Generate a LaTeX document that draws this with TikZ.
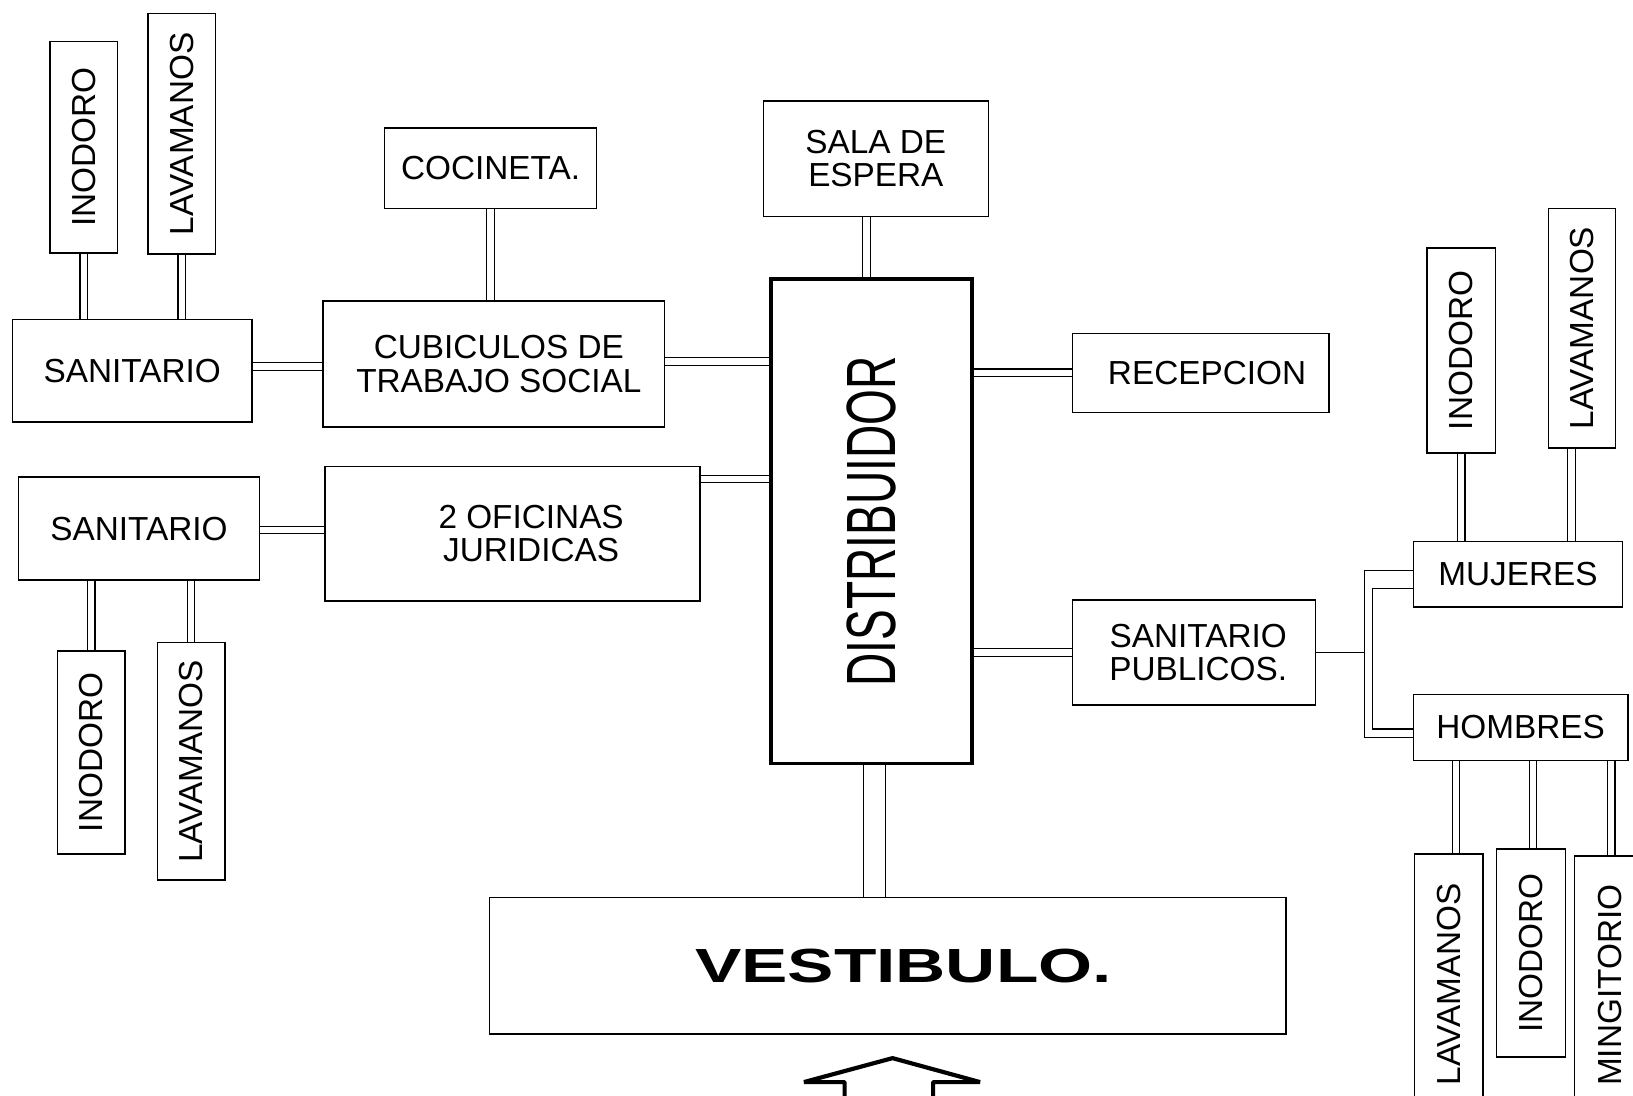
\documentclass[tikz,border=0pt]{standalone}
\usepackage{fontspec}
\usepackage{graphicx}
\setmainfont{Liberation Sans}
\begin{document}
\begin{tikzpicture}[x=1pt,y=-1pt,
  box/.style={draw, line width=1.4pt, fill=white, inner sep=0pt, align=center, font=\fontsize{32}{32}\selectfont},
  sz/.style 2 args={minimum width=#1, minimum height=#2},
  conn/.style={draw, double, double distance=6pt, line width=1.2pt},
  wire/.style={draw, line width=1.2pt},
]
\useasboundingbox (0,0) rectangle (1568,1052);
\fill[white] (0,0) rectangle (1568,1052);

% left upper group
\node[box, sz={65pt}{203pt}] (ino1) at (80.5,141.5) {\rotatebox{90}{INODORO}};
\node[box, sz={65pt}{231pt}] (lav1) at (174.5,128.5) {\rotatebox{90}{LAVAMANOS}};
\node[box, sz={230pt}{98pt}] (san1) at (127,356) {SANITARIO};
\node[box, sz={204pt}{77pt}] (coc) at (471,161.5) {COCINETA.};
\node[box, sz={328pt}{121pt}] (cub) at (474,349.5) {\hspace*{10pt}CUBICULOS DE\\\hspace*{10pt}TRABAJO SOCIAL};

% centre
\node[box, sz={216pt}{111pt}] (sala) at (841,152.5) {SALA DE\\ESPERA};
\node[box, line width=3.5pt, sz={193pt}{465pt}] (dist) at (836.5,500.5)
  {\rotatebox{90}{\scalebox{0.66}[1]{\fontsize{67}{67}\selectfont DISTRIBUIDOR}}};
\node[box, sz={246pt}{76pt}] (rec) at (1153,358) {\hspace*{12pt}RECEPCION};
\node[box, sz={233pt}{101pt}] (sp) at (1146.5,626.5) {\hspace*{8pt}SANITARIO\\\hspace*{8pt}PUBLICOS.};
\node[box, sz={765pt}{131pt}] (vest) at (852.5,927.5)
  {\hspace*{30pt}\scalebox{1.45}[1]{\fontsize{46}{46}\selectfont\bfseries VESTIBULO.}};

% left lower group
\node[box, sz={231pt}{99pt}] (san2) at (133.5,507.5) {SANITARIO};
\node[box, sz={360pt}{129pt}] (ofi) at (492,512.5) {\hspace*{36pt}2 OFICINAS\\\hspace*{36pt}JURIDICAS};
\node[box, sz={65pt}{195pt}] (ino2) at (87.5,722.5) {\rotatebox{90}{INODORO}};
\node[box, sz={65pt}{228pt}] (lav2) at (183.5,731) {\rotatebox{90}{LAVAMANOS}};

% right group
\node[box, sz={66pt}{197pt}] (ino3) at (1403,336.5) {\rotatebox{90}{INODORO}};
\node[box, sz={64pt}{230pt}] (lav3) at (1519,315) {\rotatebox{90}{LAVAMANOS}};
\node[box, sz={201pt}{63pt}] (muj) at (1457.5,551.5) {MUJERES};
\node[box, sz={206pt}{63pt}] (hom) at (1460,698.5) {HOMBRES};
\node[box, sz={66pt}{250pt}] (lav4) at (1391,945) {\rotatebox{90}{LAVAMANOS}};
\node[box, sz={66pt}{200pt}] (ino4) at (1470,915) {\rotatebox{90}{INODORO}};
\node[box, sz={68pt}{248pt}] (ming) at (1546,946) {\rotatebox{90}{MINGITORIO}};

% connectors
\draw[conn] (ino1.south) -- (ino1.south |- san1.north);
\draw[conn] (lav1.south) -- (lav1.south |- san1.north);
\draw[conn] (san1.east |- 0,352) -- (cub.west |- 0,352);
\draw[conn] (coc.south) -- (coc.south |- cub.north);
\draw[conn] (cub.east |- 0,347) -- (dist.west |- 0,347);
\draw[conn] (sala.south -| 832,0) -- (dist.north -| 832,0);
\draw[conn] (dist.east |- rec.west) -- (rec.west);
\draw[conn] (san2.east |- 0,509) -- (ofi.west |- 0,509);
\draw[conn] (ofi.east |- 0,460) -- (dist.west |- 0,460);
\draw[conn] (ino2.north |- san2.south) -- (ino2.north);
\draw[conn] (lav2.north |- san2.south) -- (lav2.north);
\draw[conn] (dist.east |- sp.west) -- (sp.west);
\draw[conn, double distance=20pt] (dist.south -| 840,0) -- (vest.north -| 840,0);
\draw[conn] (ino3.south) -- (ino3.south |- muj.north);
\draw[conn] (lav3.south -| 1509,0) -- (muj.north -| 1509,0);
\draw[conn] (hom.south -| 1398,0) -- (lav4.north -| 1398,0);
\draw[conn] (hom.south -| 1472,0) -- (ino4.north -| 1472,0);
\draw[conn] (hom.south -| 1547,0) -- (ming.north -| 1547,0);

% bracket from SANITARIO PUBLICOS to MUJERES / HOMBRES
\coordinate (bo1) at (1310,548);
\coordinate (bo2) at (1310,708);
\coordinate (bi1) at (1318,565);
\coordinate (bi2) at (1318,700);
\draw[wire] (muj.west |- bo1) -- (bo1) -- (bo2) -- (hom.west |- bo2);
\draw[wire] (muj.west |- bi1) -- (bi1) -- (bi2) -- (hom.west |- bi2);
\draw[wire] (sp.east) -- (sp.east -| bo1);

% entrance arrow
\draw[line width=4pt, line join=bevel]
  (811,1060) -- (811,1039) -- (772,1039) -- (857,1016)
  -- (941,1039) -- (896,1039) -- (896,1060);
\end{tikzpicture}
\end{document}
